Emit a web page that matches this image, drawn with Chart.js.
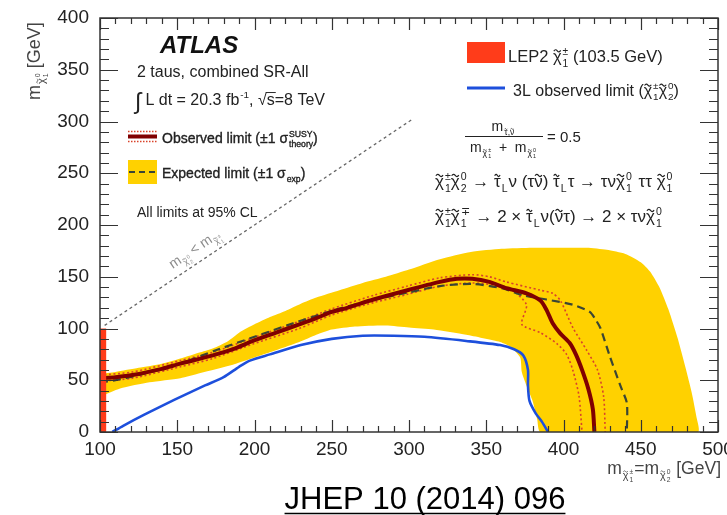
<!DOCTYPE html>
<html><head><meta charset="utf-8">
<script src="https://cdn.jsdelivr.net/npm/chart.js@4.4.0/dist/chart.umd.min.js"></script>
<style>html,body{margin:0;padding:0;background:#fff;overflow:hidden}canvas{display:block}</style>
</head><body>
<canvas id="c" width="727" height="515"></canvas>
<script>
// ---------- data (GeV) ----------
const xTickValues = [100,150,200,250,300,350,400,450,500];
const yTickValues = [0,50,100,150,200,250,300,350,400];

// expected ±1σ band (closed contour)
const bandX = [100,110,125,140,152,165,175,183,190,200,210,220,230,240,255,270,285,300,320,340,360,380,400,415,428,440,450,456,462,468,474,479,483,486,487,
               385,383,380,376,373,372,366,359,337,316,300,285,265,250,240,229,208,186,165,152,132,113,100];
const bandY = [56,58,62,66,71,77,82,88,96,104,111,117,124,130,137,144,150,157,167,174,177,178,178,178,176,172,164,155,140,118,90,62,38,15,0,
               0,12,30,45,58,72,82,87,94,99,101,103,102,99,94,87,76,65,57,52,48,42,34];

// 3L observed limit
const threeLX = [108,115,129,148,168,180,190,197,210,230,250,270,290,310,337,359,368,374,377,377,378,382,386,390];
const threeLY = [0,6,17,31,45,53,63,69,75,84,90,93,93,92,88,84,80,74,60,45,30,18,10,0];

// observed limit
const obsX = [100,110,121,140,152,173,186,199,214,229,240,250,260,277,299,320,331,341,352,363,376,385,389,393,398,404,408,412,416,419,420];
const obsY = [52,53,55,61,66,74,80,88,96,104,110,116,120,128,137,145,148,148,145,139,134,127,118,105,95,86,75,60,42,22,0];

// observed +1σ theory
const obsUpX = [100,121,152,173,199,229,250,277,299,320,341,352,363,385,393,398,406,415,422,426,427];
const obsUpY = [55,58,69,77,91,107,119,132,141,149,152,150,145,137,134,127,101,79,60,34,0];

// observed -1σ theory
const obsDnX = [100,121,152,173,199,229,250,277,299,320,341,355,365,376,373,385,396,402,406,410,412];
const obsDnY = [49,52,63,71,85,100,113,125,133,141,144,142,139,123,104,96,85,75,60,35,0];

// expected limit
const expX = [100,110,125,150,175,200,225,250,275,300,320,341,360,374,389,406,417,421,424,430,437,441,441];
const expY = [48,50,55,65,79,92,105,117,127,135,141,143,139,132,128,123,116,108,100,73,44,28,0];

// LEP2 chargino limit (103.5 GeV)
const lepX = [100,104,104,100];
const lepY = [0,0,100,100];

// kinematic boundary m(chi20) < m(chi1+-)
const diagX = [103,302];
const diagY = [103,302];

// ---------- helpers ----------
const F = "'Liberation Sans', Arial, Helvetica, sans-serif";
const fnt = (s, w='normal', st='normal') => `${st} ${w} ${s}px ${F}`;
const pts = (xs, ys) => xs.map((x, i) => ({x, y: ys[i]}));

function tokW(ctx, t, size, base) {
  if (typeof t === 'string') { ctx.font = fnt(size, base.w, base.st); return ctx.measureText(t).width; }
  let w = 0;
  const s = size * (t.scale || 1);
  if (t.c) { ctx.font = fnt(s, base.w, base.st); w += ctx.measureText(t.c).width; }
  const ss = size * 0.62; let ws = 0;
  if (t.sup) ws = Math.max(ws, richW(ctx, [].concat(t.sup), ss, base));
  if (t.sub) ws = Math.max(ws, richW(ctx, [].concat(t.sub), ss, base));
  if (ws) w += ws + 1;
  return w + (t.gap || 0);
}
function richW(ctx, toks, size, base) { return toks.reduce((a, t) => a + tokW(ctx, t, size, base), 0); }
function tilde(ctx, cx, ty, w, s) {
  const a = s * 0.07;
  ctx.save(); ctx.lineWidth = Math.max(0.7, s * 0.07); ctx.strokeStyle = ctx.fillStyle;
  ctx.beginPath(); ctx.moveTo(cx - w/2, ty + a*0.3);
  ctx.quadraticCurveTo(cx - w/4, ty - 2*a, cx, ty);
  ctx.quadraticCurveTo(cx + w/4, ty + 2*a, cx + w/2, ty - a*0.3);
  ctx.stroke(); ctx.restore();
}
function richDraw(ctx, toks, x, y, size, base) {
  for (const t of toks) {
    if (typeof t === 'string') {
      ctx.font = fnt(size, base.w, base.st); ctx.fillText(t, x, y);
      if (base.stroke) { ctx.lineWidth = base.stroke; ctx.strokeStyle = ctx.fillStyle; ctx.strokeText(t, x, y); }
      x += ctx.measureText(t).width; continue;
    }
    const s = size * (t.scale || 1);
    let wc = 0;
    if (t.c) {
      ctx.font = fnt(s, base.w, base.st); ctx.fillText(t.c, x, y);
      if (base.stroke) { ctx.lineWidth = base.stroke; ctx.strokeStyle = ctx.fillStyle; ctx.strokeText(t.c, x, y); }
      wc = ctx.measureText(t.c).width;
      if (t.tilde) tilde(ctx, x + wc/2, y - s*0.68, wc*0.8, s);
      if (t.over) { ctx.save(); ctx.lineWidth = Math.max(0.8, s*0.06); ctx.strokeStyle = ctx.fillStyle; ctx.beginPath(); ctx.moveTo(x - 1, y - s*0.78); ctx.lineTo(x + wc + 1, y - s*0.78); ctx.stroke(); ctx.restore(); }
    }
    const ss = size * 0.62; let ws = 0;
    if (t.sup) { ws = Math.max(ws, richW(ctx, [].concat(t.sup), ss, base)); richDraw(ctx, [].concat(t.sup), x + wc + 1, y - size*0.42, ss, base); }
    if (t.sub) { ws = Math.max(ws, richW(ctx, [].concat(t.sub), ss, base)); richDraw(ctx, [].concat(t.sub), x + wc + 1, y + size*0.28, ss, base); }
    x += wc + (ws ? ws + 1 : 0) + (t.gap || 0);
  }
  return x;
}
function rich(ctx, toks, x, y, size, opt = {}) {
  const base = {w: opt.w || 'normal', st: opt.st || 'normal', stroke: opt.stroke || 0};
  ctx.save();
  ctx.fillStyle = opt.color || '#222';
  ctx.textBaseline = 'alphabetic'; ctx.textAlign = 'left';
  const w = richW(ctx, toks, size, base);
  let x0 = x;
  if (opt.align === 'center') x0 = x - w/2; else if (opt.align === 'right') x0 = x - w;
  richDraw(ctx, toks, x0, y, size, base);
  ctx.restore();
  return {x0, w};
}
const chi = (sup, sub, gap = 0) => ({c: 'χ', tilde: true, sup, sub, gap});
const stauL = {c: 'τ', tilde: true, sub: 'L', gap: 1};
const snu = {c: 'ν', tilde: true};

// ---------- plugins ----------
const framePlugin = {
  id: 'frame',
  afterDatasetsDraw(chart) {
    const {ctx, chartArea: a, scales: {x, y}} = chart;
    const minorStep = 10;
    ctx.save();
    ctx.strokeStyle = '#333'; ctx.lineWidth = 1.2;
    ctx.beginPath();
    for (let v = x.min; v <= x.max; v += minorStep) {
      const p = Math.round(x.getPixelForValue(v)) + 0.5;
      const L = v % 50 === 0 ? 12 : 6;
      ctx.moveTo(p, a.bottom); ctx.lineTo(p, a.bottom - L);
      ctx.moveTo(p, a.top); ctx.lineTo(p, a.top + L);
    }
    for (let v = y.min; v <= y.max; v += minorStep) {
      const p = Math.round(y.getPixelForValue(v)) + 0.5;
      const L = v % 50 === 0 ? 18 : 9;
      ctx.moveTo(a.left, p); ctx.lineTo(a.left + L, p);
      ctx.moveTo(a.right, p); ctx.lineTo(a.right - L, p);
    }
    ctx.stroke();
    ctx.lineWidth = 1.5;
    ctx.strokeRect(a.left, a.top, a.right - a.left, a.bottom - a.top);
    ctx.restore();
  }
};

const textPlugin = {
  id: 'texts',
  afterDraw(chart) {
    const ctx = chart.ctx;
    const {x, y} = chart.scales;
    // diagonal label
    const x1 = x.getPixelForValue(diagX[0]), y1 = y.getPixelForValue(diagY[0]);
    const x2 = x.getPixelForValue(diagX[1]), y2 = y.getPixelForValue(diagY[1]);
    const ang = Math.atan2(y2 - y1, x2 - x1);
    const cx = x.getPixelForValue(166), cy = y.getPixelForValue(166);
    ctx.save();
    ctx.translate(cx, cy); ctx.rotate(ang);
    rich(ctx, [{c: 'm', sub: [chi('0', '2')]}, ' < ', {c: 'm', sub: [chi('±', '1')]}], 0, -9, 14, {align: 'center', color: '#8c8c8c'});
    ctx.restore();

    // left legend block
    ctx.save();
    ctx.fillStyle = '#111'; ctx.font = fnt(24, 'bold', 'italic'); ctx.fillText('ATLAS', 160, 53);
    ctx.restore();
    rich(ctx, ['2 taus, combined SR-All'], 137, 77, 16);
    ctx.save(); ctx.fillStyle = '#222'; ctx.font = fnt(23); ctx.fillText('∫', 135, 109); ctx.restore();
    rich(ctx, [' L dt = 20.3 fb', {c: '', sup: '-1'}, ', ', '√', {c: 's', over: true}, '=8 TeV'], 141, 105, 16);

    // observed legend swatch
    ctx.save();
    ctx.strokeStyle = '#d9432a'; ctx.lineWidth = 1.5; ctx.setLineDash([1.5, 1.5]);
    ctx.beginPath(); ctx.moveTo(128, 131.5); ctx.lineTo(157, 131.5); ctx.moveTo(128, 141.5); ctx.lineTo(157, 141.5); ctx.stroke();
    ctx.setLineDash([]); ctx.strokeStyle = '#800000'; ctx.lineWidth = 4;
    ctx.beginPath(); ctx.moveTo(128, 136.5); ctx.lineTo(157, 136.5); ctx.stroke();
    ctx.restore();
    rich(ctx, ['Observed limit (±1 ', {c: 'σ', sup: 'SUSY', sub: 'theory'}, ')'], 162, 143, 14, {stroke: 0.35});

    // expected legend swatch
    ctx.save();
    ctx.fillStyle = '#ffd100'; ctx.fillRect(128, 160, 29, 24);
    ctx.strokeStyle = '#3a4535'; ctx.lineWidth = 2; ctx.setLineDash([6, 4]);
    ctx.beginPath(); ctx.moveTo(129, 172); ctx.lineTo(157, 172); ctx.stroke();
    ctx.restore();
    rich(ctx, ['Expected limit (±1 ', {c: 'σ', sub: 'exp'}, ')'], 162, 178, 14, {stroke: 0.35});
    rich(ctx, ['All limits at 95% CL'], 137, 217, 14);

    // right legend block
    ctx.save(); ctx.fillStyle = '#ff3c1a'; ctx.fillRect(467, 42, 38, 21);
    ctx.strokeStyle = '#1d4fdc'; ctx.lineWidth = 3; ctx.beginPath(); ctx.moveTo(467, 88); ctx.lineTo(505, 88); ctx.stroke();
    ctx.restore();
    rich(ctx, ['LEP2 ', chi('±', '1'), ' (103.5 GeV)'], 508, 62, 16.5);
    rich(ctx, ['3L observed limit (', chi('±', '1'), chi('0', '2'), ')'], 513, 96, 16);

    // fraction
    rich(ctx, [{c: 'm', sub: [{c: 'τ', tilde: true}, ',', {c: 'ν', tilde: true}]}], 503, 131, 14, {align: 'center'});
    ctx.save(); ctx.strokeStyle = '#222'; ctx.lineWidth = 1; ctx.beginPath(); ctx.moveTo(465, 136.5); ctx.lineTo(543, 136.5); ctx.stroke(); ctx.restore();
    rich(ctx, [{c: 'm', sub: [chi('±', '1')]}, '  +  ', {c: 'm', sub: [chi('0', '1')]}], 503, 152, 14, {align: 'center'});
    rich(ctx, ['= 0.5'], 547, 142, 15);

    // decay chains
    rich(ctx, [chi('±', '1'), chi('0', '2', 1), ' → ', stauL, 'ν (τ', snu, ') ', stauL, 'τ → τν', chi('0', '1', 2), ' ττ ', chi('0', '1')], 435, 187, 17);
    rich(ctx, [chi('±', '1'), chi('∓', '1', 1), ' → 2 × ', stauL, 'ν(', snu, 'τ) → 2 × τν', chi('0', '1')], 435, 222, 17);

    // axis titles
    rich(ctx, [{c: 'm', sub: [chi('±', '1', 1)]}, '=', {c: 'm', sub: [chi('0', '2', 1)]}, ' [GeV]'], 721, 474, 17.5, {align: 'right', color: '#444'});
    ctx.save(); ctx.translate(40, 100); ctx.rotate(-Math.PI/2);
    rich(ctx, [{c: 'm', sub: [chi('0', '1')]}, ' [GeV]'], 0, 0, 18, {color: '#444'});
    ctx.restore();

    // reference
    const r = rich(ctx, ['JHEP 10 (2014) 096'], 425, 509, 31, {align: 'center', color: '#000'});
    ctx.save(); ctx.strokeStyle = '#000'; ctx.lineWidth = 1.6; ctx.beginPath(); ctx.moveTo(r.x0, 513.5); ctx.lineTo(r.x0 + r.w, 513.5); ctx.stroke(); ctx.restore();
  }
};

// ---------- chart ----------
const common = {showLine: true, pointRadius: 0, pointHoverRadius: 0, fill: false, tension: 0.25};
new Chart(document.getElementById('c'), {
  type: 'scatter',
  data: {
    datasets: [
      {...common, label: 'Expected ±1σ', data: pts(bandX, bandY), borderWidth: 0, borderColor: 'rgba(0,0,0,0)', backgroundColor: '#ffd100', fill: 'shape', tension: 0.2, order: 9},
      {...common, label: '3L observed', data: pts(threeLX, threeLY), borderColor: '#1d4fdc', borderWidth: 2.6, order: 8},
      {...common, label: 'Obs +1σ', data: pts(obsUpX, obsUpY), borderColor: '#d9432a', borderWidth: 1.6, borderDash: [2, 2.5], order: 7},
      {...common, label: 'Obs -1σ', data: pts(obsDnX, obsDnY), borderColor: '#d9432a', borderWidth: 1.6, borderDash: [2, 2.5], order: 6},
      {...common, label: 'Expected', data: pts(expX, expY), borderColor: '#3a4535', borderWidth: 2.2, borderDash: [8, 5], order: 5},
      {...common, label: 'Observed', data: pts(obsX, obsY), borderColor: '#800000', borderWidth: 4, order: 4},
      {...common, label: 'LEP2', data: pts(lepX, lepY), borderWidth: 0, borderColor: 'rgba(0,0,0,0)', backgroundColor: '#ff3c1a', fill: 'shape', tension: 0, order: 3},
      {...common, label: 'diag', data: pts(diagX, diagY), borderColor: '#666', borderWidth: 1.3, borderDash: [3, 3], tension: 0, order: 2}
    ]
  },
  options: {
    responsive: false, animation: false, events: [], devicePixelRatio: 1,
    layout: {padding: {left: 0, top: 18, right: 9, bottom: 0}},
    plugins: {legend: {display: false}, tooltip: {enabled: false}},
    scales: {
      x: {
        type: 'linear', min: 100, max: 500,
        grid: {display: false, drawTicks: false}, border: {display: false},
        afterBuildTicks: s => { s.ticks = xTickValues.map(v => ({value: v})); },
        afterFit: s => { s.height = 83; s.paddingLeft = 0; s.paddingRight = 0; },
        ticks: {color: '#222', font: {family: F, size: 19}, padding: 6, maxRotation: 0, autoSkip: false}
      },
      y: {
        type: 'linear', min: 0, max: 400,
        grid: {display: false, drawTicks: false}, border: {display: false},
        afterBuildTicks: s => { s.ticks = yTickValues.map(v => ({value: v})); },
        afterFit: s => { s.width = 100; s.paddingTop = 0; s.paddingBottom = 0; },
        ticks: {color: '#222', font: {family: F, size: 19}, padding: 11, autoSkip: false}
      }
    }
  },
  plugins: [framePlugin, textPlugin]
});
</script>
</body></html>
